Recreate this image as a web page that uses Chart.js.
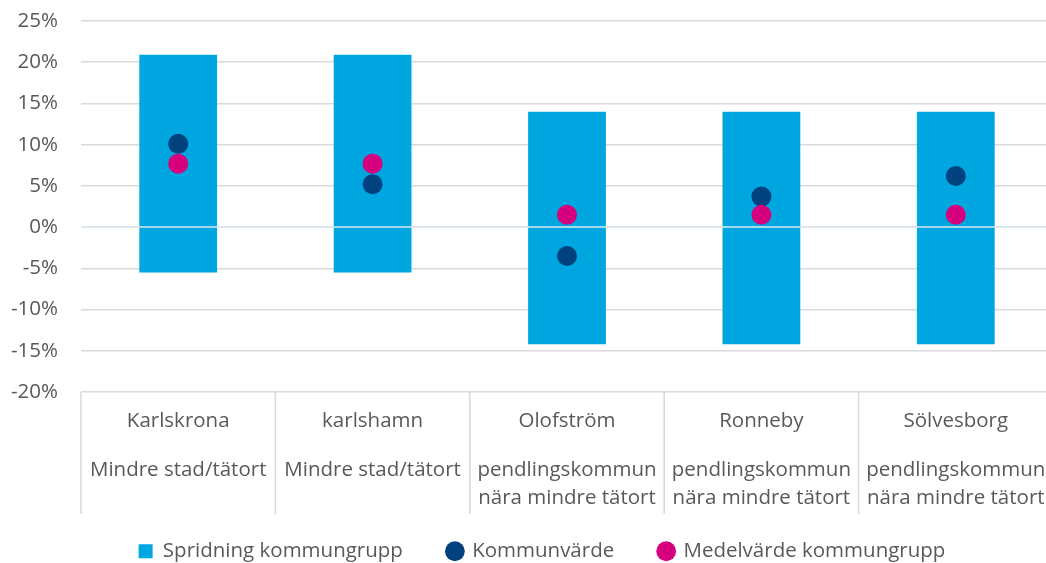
<!DOCTYPE html>
<html><head><meta charset="utf-8">
<script src="https://cdn.jsdelivr.net/npm/chart.js@4/dist/chart.umd.min.js"></script>
<style>html,body{margin:0;padding:0;overflow:hidden;background:#fff}#wrap{width:1084px;height:563px;position:relative}</style>
</head><body><div id="wrap"><canvas id="c"></canvas></div>
<script>
const categories = ['Karlskrona', 'karlshamn', 'Olofström', 'Ronneby', 'Sölvesborg'];
const groupLabels = [['Mindre stad/tätort'], ['Mindre stad/tätort'], ['pendlingskommun', 'nära mindre tätort'], ['pendlingskommun', 'nära mindre tätort'], ['pendlingskommun', 'nära mindre tätort']];
const spreadMin = [-5.5, -5.5, -14.2, -14.2, -14.2];
const spreadMax = [20.9, 20.9, 14.0, 14.0, 14.0];
const kommunValues = [10.1, 5.2, -3.5, 3.7, 6.2];
const medelValues = [7.7, 7.7, 1.5, 1.5, 1.5];
const yMin = -20, yMax = 25, yStep = 5;
const seriesNames = ['Spridning kommungrupp', 'Kommunvärde', 'Medelvärde kommungrupp'];

const FONT = "'Open Sans', sans-serif";
const FS = 20.5;
const TXT = '#595959';
const GRID = '#d9d9d9';

const extras = {
  id: 'extras',
  afterLayout(chart) {
    const lg = chart.legend;
    if (lg) { lg.left += 31; lg.width = lg.right - lg.left; lg.top -= 18; lg.height = lg.bottom - lg.top; }
  },
  afterDatasetDraw(chart, args) {
    if (args.index !== 0) return;
    const y = chart.scales.y.getPixelForValue(0);
    const a = chart.chartArea;
    const ctx = chart.ctx;
    ctx.save();
    ctx.strokeStyle = '#dce8ee';
    ctx.lineWidth = 1.5;
    ctx.beginPath(); ctx.moveTo(a.left, y); ctx.lineTo(a.right, y); ctx.stroke();
    ctx.restore();
  },
  afterDraw(chart) {
    const xs = chart.scales.x;
    const a = chart.chartArea;
    const ctx = chart.ctx;
    const n = categories.length;
    ctx.save();
    ctx.strokeStyle = GRID;
    ctx.lineWidth = 1.5;
    for (let i = 0; i <= n; i++) {
      let x;
      if (i === 0) x = a.left;
      else if (i === n) x = a.right;
      else x = (xs.getPixelForValue(i - 1) + xs.getPixelForValue(i)) / 2;
      ctx.beginPath(); ctx.moveTo(x, a.bottom); ctx.lineTo(x, a.bottom + 122); ctx.stroke();
    }
    ctx.restore();
  }
};

new Chart(document.getElementById('c'), {
  data: {
    labels: categories,
    datasets: [
      { type: 'bar', label: seriesNames[0], data: spreadMin.map((v, i) => [v, spreadMax[i]]),
        backgroundColor: '#00a6e0', borderWidth: 0, barPercentage: 0.4, categoryPercentage: 1,
        pointStyle: 'rect', order: 3 },
      { type: 'line', label: seriesNames[1], data: kommunValues, showLine: false,
        pointRadius: 10, pointHoverRadius: 10, pointBackgroundColor: '#00427f', pointBorderWidth: 0,
        backgroundColor: '#00427f', borderColor: '#00427f', pointStyle: 'circle', order: 2 },
      { type: 'line', label: seriesNames[2], data: medelValues, showLine: false,
        pointRadius: 10, pointHoverRadius: 10, pointBackgroundColor: '#d6007f', pointBorderWidth: 0,
        backgroundColor: '#d6007f', borderColor: '#d6007f', pointStyle: 'circle', order: 1 }
    ]
  },
  options: {
    responsive: true, maintainAspectRatio: false, animation: false,
    layout: { padding: { top: 21, right: 31, left: 0, bottom: 0 } },
    scales: {
      x: { type: 'category', offset: true,
        grid: { display: false, drawTicks: false }, border: { display: false },
        ticks: { color: TXT, font: { family: FONT, size: FS, lineHeight: 1.2 }, padding: 17, maxRotation: 0, autoSkip: false },
        afterFit: s => { s.height = 52; s.paddingLeft = 0; s.paddingRight = 0; } },
      x2: { type: 'category', position: 'bottom', labels: groupLabels, offset: true,
        grid: { display: false, drawTicks: false }, border: { display: false },
        ticks: { color: TXT, font: { family: FONT, size: FS, lineHeight: '28px' }, padding: 12, maxRotation: 0, autoSkip: false },
        afterFit: s => { s.height = 70; s.paddingLeft = 0; s.paddingRight = 0; } },
      y: { min: yMin, max: yMax,
        grid: { color: GRID, lineWidth: 1.5, drawTicks: false }, border: { display: false },
        ticks: { stepSize: yStep, color: TXT, font: { family: FONT, size: FS }, padding: 23, callback: v => v + '%' },
        afterFit: s => { s.width = 81; s.paddingTop = 0; s.paddingBottom = 0; } }
    },
    plugins: {
      legend: { position: 'bottom', maxHeight: 49,
        labels: { usePointStyle: true, boxHeight: 14, boxWidth: 14, padding: 45, color: TXT,
          font: { family: FONT, size: FS }, sort: (a, b) => a.datasetIndex - b.datasetIndex } },
      tooltip: { enabled: false }
    }
  },
  plugins: [extras]
});
</script></body></html>
